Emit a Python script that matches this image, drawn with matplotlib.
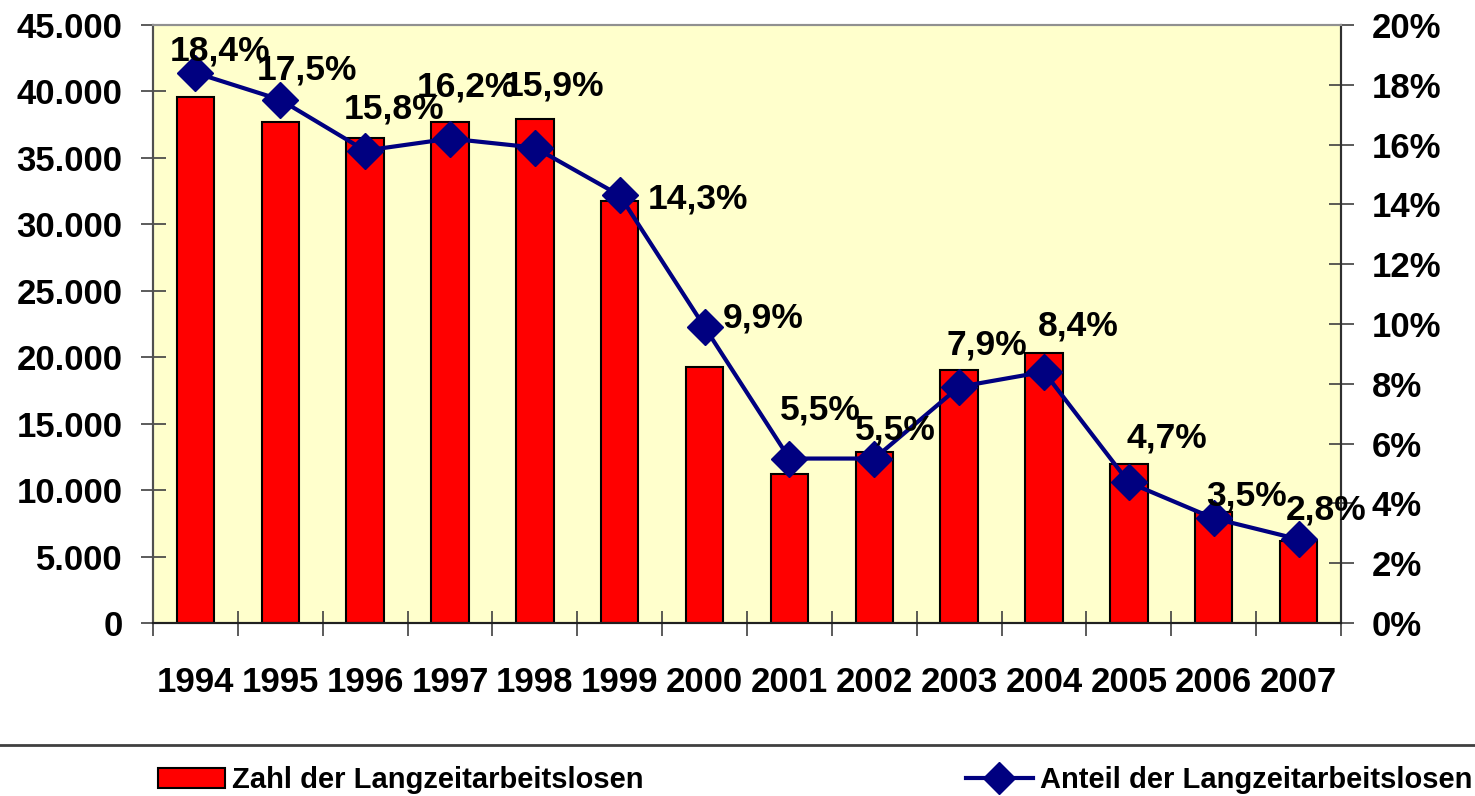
"""Langzeitarbeitslose 1994-2007: Anzahl (Balken) und Anteil (Linie)."""
import matplotlib

matplotlib.use("Agg")
import matplotlib.pyplot as plt
from matplotlib.lines import Line2D
from matplotlib.patches import Patch
from matplotlib.ticker import FuncFormatter, MultipleLocator, FixedLocator

years = ["1994", "1995", "1996", "1997", "1998", "1999", "2000",
         "2001", "2002", "2003", "2004", "2005", "2006", "2007"]
counts = [39600, 37700, 36500, 37700, 37950, 31750, 19250,
          11200, 12900, 19050, 20350, 11950, 8350, 6150]
shares = [18.4, 17.5, 15.8, 16.2, 15.9, 14.3, 9.9,
          5.5, 5.5, 7.9, 8.4, 4.7, 3.5, 2.8]

# label offsets from the marker, in pixels (dx right, dy up)
label_offsets = [(25, 25), (27, 33), (29, 45), (17, 55), (19, 65), (78, 0), (59, 12),
                 (31, 52), (21, 32), (28, 45), (34, 49), (38, 48), (33, 26), (27, 33)]

BAR_RED = "#FF0000"
NAVY = "#000080"
BG = "#FFFFCC"

plt.rcParams.update({
    "font.family": ["Liberation Sans", "DejaVu Sans"],
    "font.weight": "bold",
})

fig = plt.figure(figsize=(14.75, 7.96), dpi=100)
ax = fig.add_axes([153 / 1475, 1 - 623 / 796, (1341 - 153) / 1475, (623 - 25) / 796])
ax.set_facecolor(BG)

x = list(range(len(years)))
ax.bar(x, counts, width=0.44, color=BAR_RED, edgecolor="black", linewidth=1.5, zorder=2)
ax.set_xlim(-0.5, len(years) - 0.5)
ax.set_ylim(0, 45000)
ax.yaxis.set_major_locator(MultipleLocator(5000))
ax.yaxis.set_major_formatter(FuncFormatter(lambda v, _: f"{v:,.0f}".replace(",", ".")))

ax.set_xticks(x)
ax.set_xticklabels(years)
ax.xaxis.set_minor_locator(FixedLocator([i - 0.5 for i in range(len(years) + 1)]))
ax.tick_params(axis="x", which="major", length=0, pad=31, labelsize=25)
ax.tick_params(axis="x", which="minor", direction="inout", length=18, width=1.2, color="#404040")
ax.tick_params(axis="y", direction="inout", length=18, width=1.2, color="#404040",
               pad=13, labelsize=25)

ax2 = ax.twinx()
ax2.plot(x, shares, color=NAVY, linewidth=3, marker="D", markersize=18,
         markerfacecolor=NAVY, markeredgecolor=NAVY, zorder=3)
ax2.set_ylim(0, 20)
ax2.yaxis.set_major_locator(MultipleLocator(2))
ax2.yaxis.set_major_formatter(FuncFormatter(lambda v, _: f"{v:.0f}%"))
ax2.tick_params(axis="y", direction="inout", length=18, width=1.2, color="#404040",
                pad=13, labelsize=25)

for xi, val, (dx, dy) in zip(x, shares, label_offsets):
    ax2.annotate(f"{val:.1f}%".replace(".", ","), (xi, val), xytext=(dx, dy),
                 textcoords="offset pixels", ha="center", va="center_baseline",
                 fontsize=25.5, fontweight="bold", color="black", zorder=4)

for a in (ax, ax2):
    a.spines["top"].set_color("#909090")
    a.spines["left"].set_color("#505050")
    a.spines["right"].set_color("#303030")
    a.spines["bottom"].set_color("#202020")
    for s in a.spines.values():
        s.set_linewidth(1.5)

# separator line above the legend
fig.add_artist(Line2D([0, 1], [1 - 745 / 796] * 2, transform=fig.transFigure,
                      color="#404040", linewidth=2))

legend_font = {"family": ["Liberation Sans", "DejaVu Sans"], "weight": "bold", "size": 21}
bar_handle = Patch(facecolor=BAR_RED, edgecolor="black", linewidth=1.5)
line_handle = Line2D([], [], color=NAVY, linewidth=3, marker="D", markersize=16,
                     markerfacecolor=NAVY, markeredgecolor=NAVY)
fig.legend([bar_handle], ["Zahl der Langzeitarbeitslosen"], loc="center left",
           bbox_to_anchor=(146 / 1475, 1 - 780 / 796), frameon=False, prop=legend_font,
           handlelength=2.3, handleheight=0.7, handletextpad=0.25, borderaxespad=0)
fig.legend([line_handle], ["Anteil der Langzeitarbeitslosen"], loc="center left",
           bbox_to_anchor=(954 / 1475, 1 - 780 / 796), frameon=False, prop=legend_font,
           handlelength=2.3, handletextpad=0.25, borderaxespad=0)

fig.savefig("out.png", dpi=100)
